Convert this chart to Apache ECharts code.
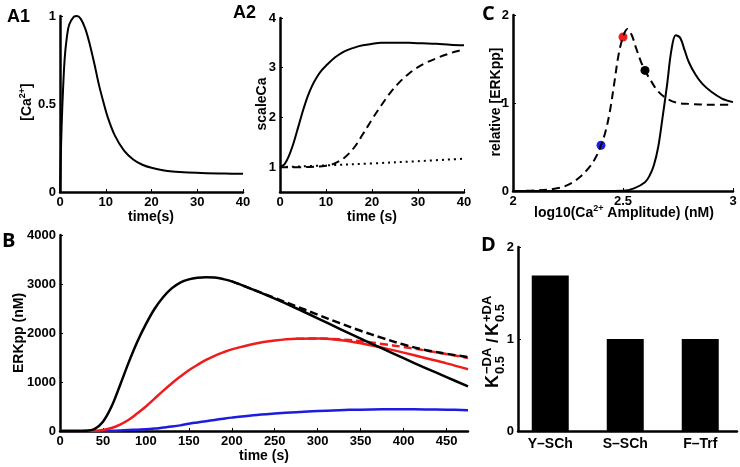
<!DOCTYPE html>
<html>
<head>
<meta charset="utf-8">
<script src="https://cdn.jsdelivr.net/npm/echarts@6/dist/echarts.min.js"></script>
<style>
html,body{margin:0;padding:0;background:#fff;}
#chart{width:740px;height:467px;}
</style>
</head>
<body>
<div id="chart"></div>
<script>
// ---------- DATA ----------
// A1: calcium transient
const a1Time = [0,0.25,0.5,1,1.5,2,3,3.7,4.5,5.5,6.5,7.5,8.5,9.5,10.5,12,14,16,18,20,24,28,32,36,40];
const a1Ca   = [0,0.28,0.48,0.75,0.88,0.95,0.995,1.0,0.985,0.93,0.84,0.73,0.61,0.51,0.42,0.32,0.235,0.185,0.155,0.138,0.118,0.111,0.107,0.105,0.103];
// A2: scaleCa
const a2TimeSolid = [0,1,2,3,4,5,6,7,8,9,10,12,14,16,18,20,22,25,28,31,34,37,40];
const a2Solid     = [1,1.06,1.24,1.50,1.82,2.14,2.42,2.64,2.81,2.94,3.04,3.21,3.33,3.40,3.45,3.48,3.50,3.50,3.50,3.49,3.48,3.46,3.45];
const a2TimeDashed = [0,5,10,12,14,16,18,20,22,24,26,28,30,32,34,36,38,40];
const a2Dashed     = [1,1,1.03,1.08,1.19,1.38,1.66,1.96,2.24,2.50,2.71,2.88,3.01,3.11,3.19,3.26,3.32,3.37];
const a2TimeDotted = [0,10,20,30,40];
const a2Dotted     = [1,1.035,1.075,1.12,1.17];
// C: relative ERKpp vs log10 amplitude
const cLogDashed = [2.0,2.1,2.2,2.25,2.3,2.35,2.38,2.4,2.42,2.44,2.46,2.48,2.5,2.52,2.54,2.56,2.58,2.6,2.63,2.66,2.7,2.75,2.8,2.9,3.0];
const cDashed    = [0,0.005,0.03,0.07,0.15,0.28,0.40,0.52,0.67,0.90,1.22,1.55,1.75,1.84,1.77,1.62,1.48,1.37,1.24,1.13,1.05,1.0,0.99,0.98,0.98];
const cLogSolid  = [2.0,2.4,2.5,2.55,2.6,2.62,2.64,2.66,2.68,2.70,2.72,2.74,2.76,2.78,2.80,2.83,2.86,2.9,2.95,3.0];
const cSolid     = [0,0,0.003,0.03,0.10,0.17,0.29,0.50,0.84,1.20,1.60,1.77,1.74,1.60,1.46,1.32,1.22,1.13,1.05,1.01];
const cDotLog    = [2.4,2.5,2.6];
const cDotVal    = [0.52,1.75,1.37];
const cDotColor  = ['#1f1fe6','#ee2020','#000000'];
// B: ERKpp time courses
const bTime        = [0,20,30,40,50,60,70,80,90,100,110,120,130,140,150,160,170,180,190,200,225,250,275,300,325,350,375,400,425,450,475];
const bBlackSolid  = [0,0,5,40,190,500,940,1400,1820,2180,2490,2730,2910,3030,3095,3128,3140,3132,3100,3055,2885,2700,2505,2300,2090,1885,1685,1485,1290,1100,910];
const bTimeLate    = [200,225,250,275,300,325,350,375,400,425,450,475];
const bBlackDashed = [3055,2885,2715,2545,2375,2205,2045,1900,1765,1655,1575,1510];
const bRedSolid    = [0,0,0,0,20,60,130,230,360,500,660,820,970,1110,1240,1350,1450,1535,1605,1665,1775,1845,1882,1887,1857,1792,1702,1600,1490,1380,1260];
const bTimeRedLate = [275,300,325,350,375,400,425,450,475];
const bRedDashed   = [1882,1887,1872,1832,1777,1715,1645,1570,1490];
const bBlue        = [0,0,0,0,0,3,10,20,28,35,50,70,90,115,150,175,200,225,250,273,320,355,385,409,425,436,442,443,441,436,425];
// D: K0.5 ratio bars
const dCats   = ['Y\u2013SCh','S\u2013SCh','F\u2013Trf'];
const dPos    = [1,2,3];
const dValues = [1.69,1.0,1.0];
// tick values
const a1XTicks = [0,10,20,30,40], a1YTicks = [0,0.5,1];
const a2XTicks = [0,10,20,30,40], a2YTicks = [1,2,3,4];
const cXTicks = [2,2.5,3], cYTicks = [0,1,2];
const bXTicks = [0,50,100,150,200,250,300,350,400,450], bYTicks = [0,1000,2000,3000,4000];
const dYTicks = [0,1,2];

// ---------- BUILD ----------
const zip = (xs, ys) => xs.map((x, i) => [x, ys[i]]);
const FONT = 'Liberation Sans, Arial, sans-serif';
function vAxis(idx, min, max, ticks, extra) {
  return Object.assign({
    type: 'value', gridIndex: idx, min: min, max: max,
    splitLine: {show: false},
    axisLine: {show: true, onZero: false, lineStyle: {color: '#000', width: 2.5}},
    axisTick: {show: true, inside: true, length: 3, lineStyle: {color: '#000', width: 1}, customValues: ticks},
    axisLabel: {color: '#000', fontWeight: 'bold', fontSize: 13, fontFamily: FONT, margin: 4, customValues: ticks,
                formatter: v => String(v)}
  }, extra || {});
}
function line(xi, data, color, type, width) {
  return {type: 'line', xAxisIndex: xi, yAxisIndex: xi, data: data, showSymbol: false, symbol: 'none',
    smooth: 0.35, lineStyle: {color: color, width: width || 2, type: type || 'solid', cap: 'butt', join: 'round'},
    silent: true, animation: false};
}

const grids = [
  {left: 60, top: 16, width: 183, height: 176},   // A1
  {left: 280, top: 18, width: 184, height: 174},  // A2
  {left: 513, top: 15, width: 220, height: 176},  // C
  {left: 60, top: 235, width: 408, height: 196},  // B
  {left: 518, top: 247, width: 219, height: 184}  // D
].map(g => Object.assign({containLabel: false}, g));

const xAxes = [
  vAxis(0, 0, 40, a1XTicks),
  vAxis(1, 0, 40, a2XTicks),
  vAxis(2, 2, 3, cXTicks),
  vAxis(3, 0, 475, bXTicks),
  vAxis(4, 0.57, 3.49, dPos, {
    axisTick: {show: false},
    axisLabel: {color: '#000', fontWeight: 'bold', fontSize: 14, fontFamily: FONT, margin: 6, customValues: dPos,
      formatter: v => dCats[Math.round(v) - 1] || ''}
  })
];
const yAxes = [
  vAxis(0, 0, 1, a1YTicks),
  vAxis(1, 0.5, 4, a2YTicks),
  vAxis(2, 0, 2, cYTicks),
  vAxis(3, 0, 4000, bYTicks),
  vAxis(4, 0, 2, dYTicks)
];

const series = [
  line(0, zip(a1Time, a1Ca), '#000'),
  line(1, zip(a2TimeSolid, a2Solid), '#000'),
  line(1, zip(a2TimeDashed, a2Dashed), '#000', [8, 5]),
  line(1, zip(a2TimeDotted, a2Dotted), '#000', [2, 4]),
  line(2, zip(cLogDashed, cDashed), '#000', [8, 5]),
  line(2, zip(cLogSolid, cSolid), '#000'),
  {type: 'scatter', xAxisIndex: 2, yAxisIndex: 2, symbolSize: 9, animation: false, silent: true,
   data: cDotLog.map((x, i) => ({value: [x, cDotVal[i]], itemStyle: {color: cDotColor[i], opacity: 1}}))},
  line(3, zip(bTime, bBlue), '#1c1ce0', 'solid', 2.5),
  line(3, zip(bTime, bRedSolid), '#ee1d1d', 'solid', 2.5),
  line(3, zip(bTimeRedLate, bRedDashed), '#ee1d1d', [8, 4], 2.5),
  line(3, zip(bTime, bBlackSolid), '#000', 'solid', 2.5),
  line(3, zip(bTimeLate, bBlackDashed), '#000', [8, 4], 2.5),
  {type: 'bar', xAxisIndex: 4, yAxisIndex: 4, barWidth: 37, animation: false, silent: true,
   itemStyle: {color: '#000'}, data: zip(dPos, dValues)}
];

const tStyle = (extra) => Object.assign({fill: '#000', fontFamily: FONT, fontWeight: 'bold', fontSize: 14,
  textAlign: 'center', textVerticalAlign: 'middle', align: 'center', verticalAlign: 'middle'}, extra || {});
function txt(x, y, text, extra, rot) {
  return {type: 'text', x: x, y: y, rotation: rot || 0, silent: true, style: tStyle(Object.assign({text: text}, extra || {}))};
}
const supRich = {sup: {fontSize: 9, fontWeight: 'bold', fontFamily: FONT, verticalAlign: 'top', lineHeight: 18, padding: [0, 0, 6, 0]},
                 n: {fontSize: 14, fontWeight: 'bold', fontFamily: FONT, lineHeight: 18}};
const R = Math.PI / 2;
const left = {textAlign: 'left', align: 'left'};
const graphic = [
  // panel letters
  txt(7, 17, 'A1', Object.assign({fontSize: 18}, left)),
  txt(233, 13, 'A2', Object.assign({fontSize: 18}, left)),
  txt(482, 14, 'C', Object.assign({fontSize: 20, fontFamily: 'Open Sans, sans-serif'}, left)),
  txt(2, 241, 'B', Object.assign({fontSize: 20, fontFamily: 'Open Sans, sans-serif'}, left)),
  txt(481, 245, 'D', Object.assign({fontSize: 20, fontFamily: 'Open Sans, sans-serif'}, left)),
  // axis titles
  txt(151, 217, 'time(s)'),
  txt(372, 217, 'time (s)'),
  txt(264, 456, 'time (s)'),
  txt(262, 104, 'scaleCa', {}, R),
  txt(496, 102, 'relative [ERKpp]', {}, R),
  txt(19, 333, 'ERKpp (nM)', {}, R),
  txt(27, 102, '{n|[Ca}{sup|2+}{n|]}', {rich: supRich}, R),
  txt(624, 213, '{n|log10(Ca}{sup|2+}{n| Amplitude) (nM)}', {rich: supRich}),
  // K label for D
  {type: 'group', x: 493, y: 388, rotation: R, silent: true, children: [
    txt(0, 0, 'K', Object.assign({fontSize: 18}, left)),
    txt(14, -6, '\u2212DA', Object.assign({fontSize: 13}, left)),
    txt(14, 7, '0.5', Object.assign({fontSize: 13}, left)),
    txt(45, 0, '/', Object.assign({fontSize: 17}, left)),
    txt(52, 0, 'K', Object.assign({fontSize: 18}, left)),
    txt(66, -6, '+DA', Object.assign({fontSize: 13}, left)),
    txt(66, 7, '0.5', Object.assign({fontSize: 13}, left))
  ]}
];

const chart = echarts.init(document.getElementById('chart'), null, {renderer: 'canvas'});
chart.setOption({
  animation: false,
  backgroundColor: '#fff',
  grid: grids, xAxis: xAxes, yAxis: yAxes, series: series, graphic: graphic
});
</script>
</body>
</html>
